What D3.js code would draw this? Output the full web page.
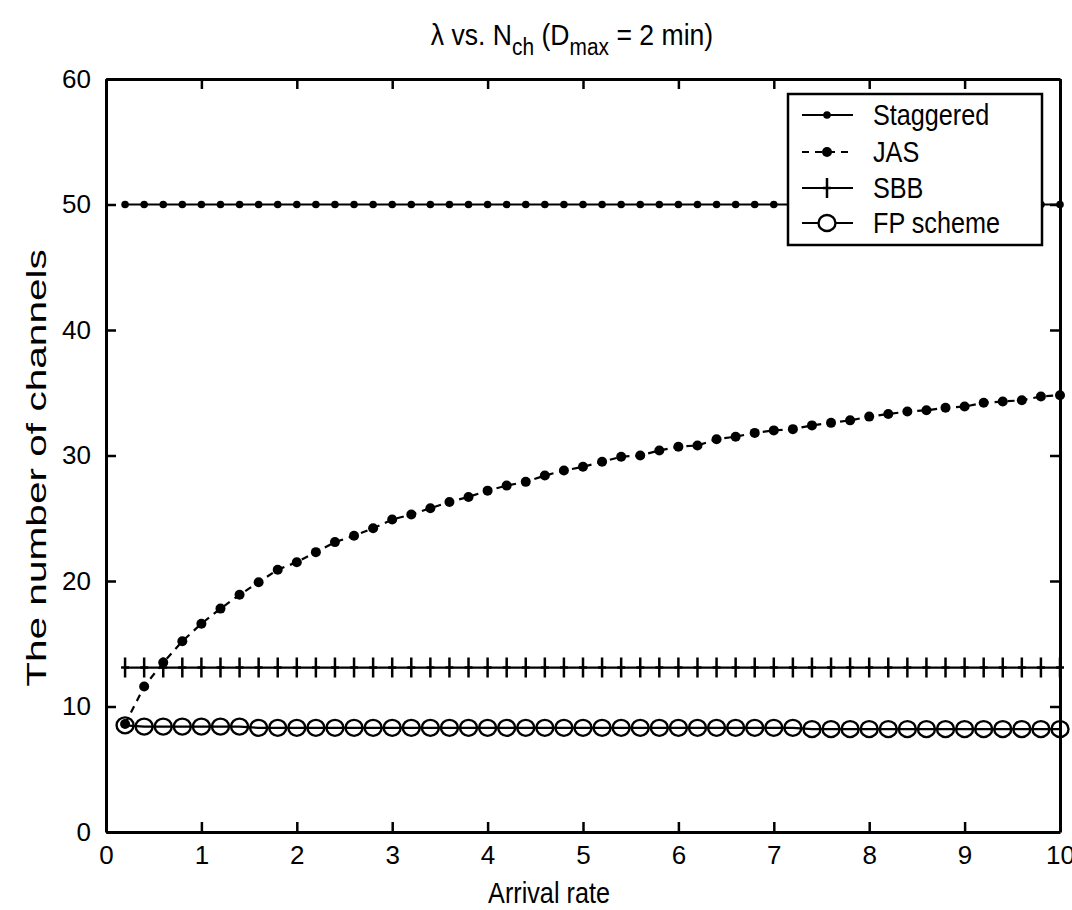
<!DOCTYPE html>
<html><head><meta charset="utf-8">
<script src="https://cdn.jsdelivr.net/npm/d3@7"></script>
<style>
html,body{margin:0;padding:0;background:#fff;}
svg{display:block;}
text{font-family:"Liberation Sans",Arial,sans-serif;fill:#000;}
</style></head>
<body>
<svg id="chart" width="1072" height="910"></svg>
<script>
const arrivalRate = [0.2,0.4,0.6,0.8,1.0,1.2,1.4,1.6,1.8,2.0,2.2,2.4,2.6,2.8,3.0,3.2,3.4,3.6,3.8,4.0,4.2,4.4,4.6,4.8,5.0,5.2,5.4,5.6,5.8,6.0,6.2,6.4,6.6,6.8,7.0,7.2,7.4,7.6,7.8,8.0,8.2,8.4,8.6,8.8,9.0,9.2,9.4,9.6,9.8,10.0];
const staggered = [50,50,50,50,50,50,50,50,50,50,50,50,50,50,50,50,50,50,50,50,50,50,50,50,50,50,50,50,50,50,50,50,50,50,50,50,50,50,50,50,50,50,50,50,50,50,50,50,50,50];
const jas = [8.6,11.6,13.5,15.2,16.6,17.8,18.9,19.9,20.9,21.5,22.3,23.1,23.6,24.2,24.9,25.3,25.8,26.3,26.7,27.2,27.6,27.9,28.4,28.8,29.1,29.5,29.9,30.0,30.4,30.7,30.8,31.3,31.5,31.8,32.0,32.1,32.4,32.6,32.8,33.1,33.3,33.5,33.6,33.8,33.9,34.2,34.3,34.4,34.7,34.8];
const sbb = [13.1,13.1,13.1,13.1,13.1,13.1,13.1,13.1,13.1,13.1,13.1,13.1,13.1,13.1,13.1,13.1,13.1,13.1,13.1,13.1,13.1,13.1,13.1,13.1,13.1,13.1,13.1,13.1,13.1,13.1,13.1,13.1,13.1,13.1,13.1,13.1,13.1,13.1,13.1,13.1,13.1,13.1,13.1,13.1,13.1,13.1,13.1,13.1,13.1,13.1];
const fp = [8.5,8.4,8.4,8.4,8.4,8.4,8.4,8.3,8.3,8.3,8.3,8.3,8.3,8.3,8.3,8.3,8.3,8.3,8.3,8.3,8.3,8.3,8.3,8.3,8.3,8.3,8.3,8.3,8.3,8.3,8.3,8.3,8.3,8.3,8.3,8.3,8.2,8.2,8.2,8.2,8.2,8.2,8.2,8.2,8.2,8.2,8.2,8.2,8.2,8.2];
const xTicks = [0,1,2,3,4,5,6,7,8,9,10];
const yTicks = [0,10,20,30,40,50,60];
const seriesNames = ["Staggered","JAS","SBB","FP scheme"];

const svg = d3.select("#chart");
const L = 106, R = 1060, T = 79, B = 832;
const x = d3.scaleLinear().domain([0,10]).range([L,R]);
const y = d3.scaleLinear().domain([0,60]).range([B,T]);
const FS = 26;

// axes (box with inward ticks)
const gB = svg.append("g").attr("transform",`translate(0,${B})`)
  .call(d3.axisBottom(x).tickValues(xTicks).tickSizeInner(-10).tickSizeOuter(0).tickPadding(14).tickFormat(d3.format("d")));
const gT = svg.append("g").attr("transform",`translate(0,${T})`)
  .call(d3.axisTop(x).tickValues(xTicks).tickSizeInner(-10).tickSizeOuter(0).tickFormat(""));
const gL = svg.append("g").attr("transform",`translate(${L},0)`)
  .call(d3.axisLeft(y).tickValues(yTicks).tickSizeInner(-10).tickSizeOuter(0).tickPadding(15).tickFormat(d3.format("d")));
const gR = svg.append("g").attr("transform",`translate(${R},0)`)
  .call(d3.axisRight(y).tickValues(yTicks).tickSizeInner(-10).tickSizeOuter(0).tickFormat(""));
[gB,gT,gL,gR].forEach(g=>{
  g.select(".domain").attr("stroke","#000").attr("stroke-width",3);
  g.selectAll(".tick line").attr("stroke","#000").attr("stroke-width",2.5);
  g.selectAll(".tick text").attr("font-size",FS).attr("fill","#000").attr("font-family","Liberation Sans, Arial, sans-serif");
});

const data = (vals)=>arrivalRate.map((r,i)=>({x:r,y:vals[i]}));
const line = d3.line().x(d=>x(d.x)).y(d=>y(d.y));
const plot = svg.append("g");

// Staggered
plot.append("path").datum(data(staggered)).attr("d",line).attr("fill","none").attr("stroke","#000").attr("stroke-width",2.2);
plot.selectAll(".stg").data(data(staggered)).join("circle").attr("cx",d=>x(d.x)).attr("cy",d=>y(d.y)).attr("r",3.8).attr("fill","#000");

// JAS
plot.append("path").datum(data(jas)).attr("d",line).attr("fill","none").attr("stroke","#000").attr("stroke-width",2.2).attr("stroke-dasharray","7,6");
plot.selectAll(".jas").data(data(jas)).join("circle").attr("cx",d=>x(d.x)).attr("cy",d=>y(d.y)).attr("r",5).attr("fill","#000");

// SBB
plot.append("path").datum(data(sbb)).attr("d",line).attr("fill","none").attr("stroke","#000").attr("stroke-width",2.2);
const plusPath = (cx,cy)=>`M${cx-4},${cy}L${cx+4},${cy}M${cx},${cy-10}L${cx},${cy+10}`;
plot.selectAll(".sbb").data(data(sbb)).join("path").attr("d",d=>plusPath(x(d.x),y(d.y))).attr("stroke","#000").attr("stroke-width",2.5).attr("fill","none");

// FP scheme
plot.append("path").datum(data(fp)).attr("d",line).attr("fill","none").attr("stroke","#000").attr("stroke-width",2.2);
plot.selectAll(".fp").data(data(fp)).join("ellipse").attr("cx",d=>x(d.x)).attr("cy",d=>y(d.y)).attr("rx",8.5).attr("ry",8).attr("fill","none").attr("stroke","#000").attr("stroke-width",2.4);

// Legend
const lg = svg.append("g");
lg.append("rect").attr("x",788).attr("y",94).attr("width",254).attr("height",151).attr("fill","#fff").attr("stroke","#000").attr("stroke-width",2.5);
const rowY = [115,152,188,223];
seriesNames.forEach((name,i)=>{
  const cy = rowY[i], x1 = 802, x2 = 853, cx = 827;
  lg.append("line").attr("x1",x1).attr("x2",x2).attr("y1",cy).attr("y2",cy).attr("stroke","#000").attr("stroke-width",2.2)
    .attr("stroke-dasharray", i===1 ? "7,6" : null);
  if(i===0) lg.append("circle").attr("cx",cx).attr("cy",cy).attr("r",3.8).attr("fill","#000");
  if(i===1) lg.append("circle").attr("cx",cx).attr("cy",cy).attr("r",5).attr("fill","#000");
  if(i===2) lg.append("path").attr("d",plusPath(cx,cy)).attr("stroke","#000").attr("stroke-width",2.5);
  if(i===3) lg.append("ellipse").attr("cx",cx).attr("cy",cy).attr("rx",8.5).attr("ry",8).attr("fill","#fff").attr("stroke","#000").attr("stroke-width",2.4);
  lg.append("text").attr("transform",`translate(873,${cy+10}) scale(0.97,1.12)`).attr("font-size",FS).text(name);
});

// Title
const title = svg.append("text").attr("transform","translate(572,45) scale(0.95,1.08)").attr("text-anchor","middle").attr("font-size",28);
title.append("tspan").text("λ vs. N");
title.append("tspan").attr("font-size",22).attr("dy",9).text("ch");
title.append("tspan").attr("dy",-9).text(" (D");
title.append("tspan").attr("font-size",22).attr("dy",9).text("max");
title.append("tspan").attr("dy",-9).text(" = 2 min)");

// Axis labels
svg.append("text").attr("transform","translate(549,903) scale(0.97,1.12)").attr("text-anchor","middle").attr("font-size",FS).text("Arrival rate");
svg.append("text").attr("transform",`translate(46,468) rotate(-90) scale(1.4,0.95)`).attr("text-anchor","middle").attr("font-size",29).text("The number of channels");
</script>
</body></html>
